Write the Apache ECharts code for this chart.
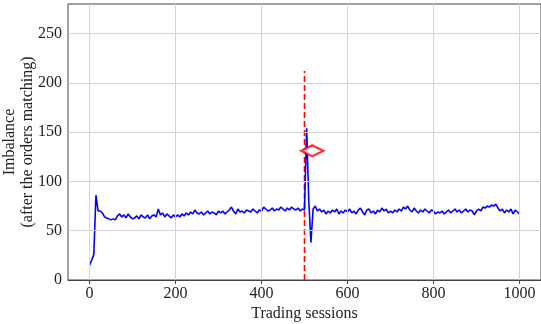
<!DOCTYPE html>
<html>
<head>
<meta charset="utf-8">
<script src="https://cdn.jsdelivr.net/npm/echarts@6/dist/echarts.min.js"></script>
<style>html,body{margin:0;padding:0;background:#fff;}#c{width:541px;height:324px;}</style>
</head>
<body>
<div id="c"></div>
<script>
// Imbalance sampled every 5 trading sessions, 0..1000
const sessionStep = 5;
const imbalance = [
  15,20,26,86,70,70,68,64,63,62,61,62,61,65,67,64,66,63,67,64,62,
  63,65,62,66,64,63,66,62,65,66,64,72,66,68,64,67,65,63,66,64,
  66,64,67,65,68,66,69,67,71,68,67,69,66,68,70,67,69,68,66,70,
  68,70,67,69,71,74,70,67,72,69,70,68,71,70,69,72,70,68,71,70,
  74,72,70,71,73,70,72,71,74,72,70,73,71,74,72,71,73,70,72,71,
  154,80,38,72,75,70,72,69,71,67,70,68,71,69,72,67,70,68,71,69,
  72,68,70,67,71,73,69,66,71,72,68,70,67,71,69,73,70,72,68,70,
  68,71,69,72,70,74,72,75,71,69,73,70,68,71,69,72,70,68,71,70,
  67,69,68,70,67,69,71,68,70,72,69,71,68,70,72,69,71,70,66,70,
  72,70,74,73,75,74,76,75,77,73,70,72,68,71,69,72,67,71,69,67
];
const xTicks = [0,200,400,600,800,1000];
const yTicks = [0,50,100,150,200,250];
const changeSession = 500;
const changeLineTop = 212;
const markerPoint = [518, 131];

const lineData = imbalance.map((v,i)=>[i*sessionStep, v]);
const font = '"Liberation Serif","DejaVu Serif",serif';

const chart = echarts.init(document.getElementById('c'), null, {renderer:'canvas'});
chart.setOption({
  animation:false,
  backgroundColor:'#fff',
  grid:{left:68, right:0, top:4, bottom:44, containLabel:false, outerBoundsMode:'none',
        show:true, borderColor:'#444', borderWidth:1, backgroundColor:'transparent'},
  xAxis:{
    type:'value', min:-50, max:1050,
    name:'Trading sessions', nameLocation:'middle', nameGap:26, nameMoveOverlap:false,
    nameTextStyle:{fontFamily:font, fontSize:16, color:'#222'},
    axisLine:{show:true, lineStyle:{color:'#444', width:1}},
    axisTick:{show:true, length:4, customValues:xTicks, lineStyle:{color:'#444'}},
    axisLabel:{customValues:xTicks, formatter:v=>String(v), fontFamily:font, fontSize:16, color:'#222', margin:6},
    splitLine:{show:false}
  },
  yAxis:{
    type:'value', min:0, max:280,
    name:'Imbalance\n(after the orders matching)', nameLocation:'middle', nameGap:31, nameRotate:90, nameMoveOverlap:false,
    nameTextStyle:{fontFamily:font, fontSize:16, color:'#222', lineHeight:18},
    axisLine:{show:true, lineStyle:{color:'#444', width:1}},
    axisTick:{show:true, length:4, customValues:yTicks, lineStyle:{color:'#444'}},
    axisLabel:{customValues:yTicks, formatter:v=>String(v), fontFamily:font, fontSize:16, color:'#222', margin:6},
    splitLine:{show:false}
  },
  series:[
    {
      type:'line', data:[], silent:true, z:1,
      markLine:{
        silent:true, symbol:'none', animation:false,
        label:{show:false},
        lineStyle:{color:'#d4d4d4', width:1, type:'solid'},
        data: xTicks.map(v=>({xAxis:v})).concat(yTicks.filter(v=>v>0).map(v=>({yAxis:v})))
      }
    },
    {
      type:'line', data:[[changeSession,0],[changeSession,changeLineTop]],
      showSymbol:false, z:2,
      lineStyle:{color:'#ff0000', width:1.6, type:[6,3]}
    },
    {
      type:'line', data:lineData, showSymbol:false, z:3,
      lineStyle:{color:'#0000ff', width:1.6}
    },
    {
      type:'scatter', data:[markerPoint], z:4,
      symbol:'diamond', symbolSize:[22,11],
      itemStyle:{color:'#ffffff', borderColor:'#ff0000', borderWidth:2.5}
    }
  ]
});
</script>
</body>
</html>
